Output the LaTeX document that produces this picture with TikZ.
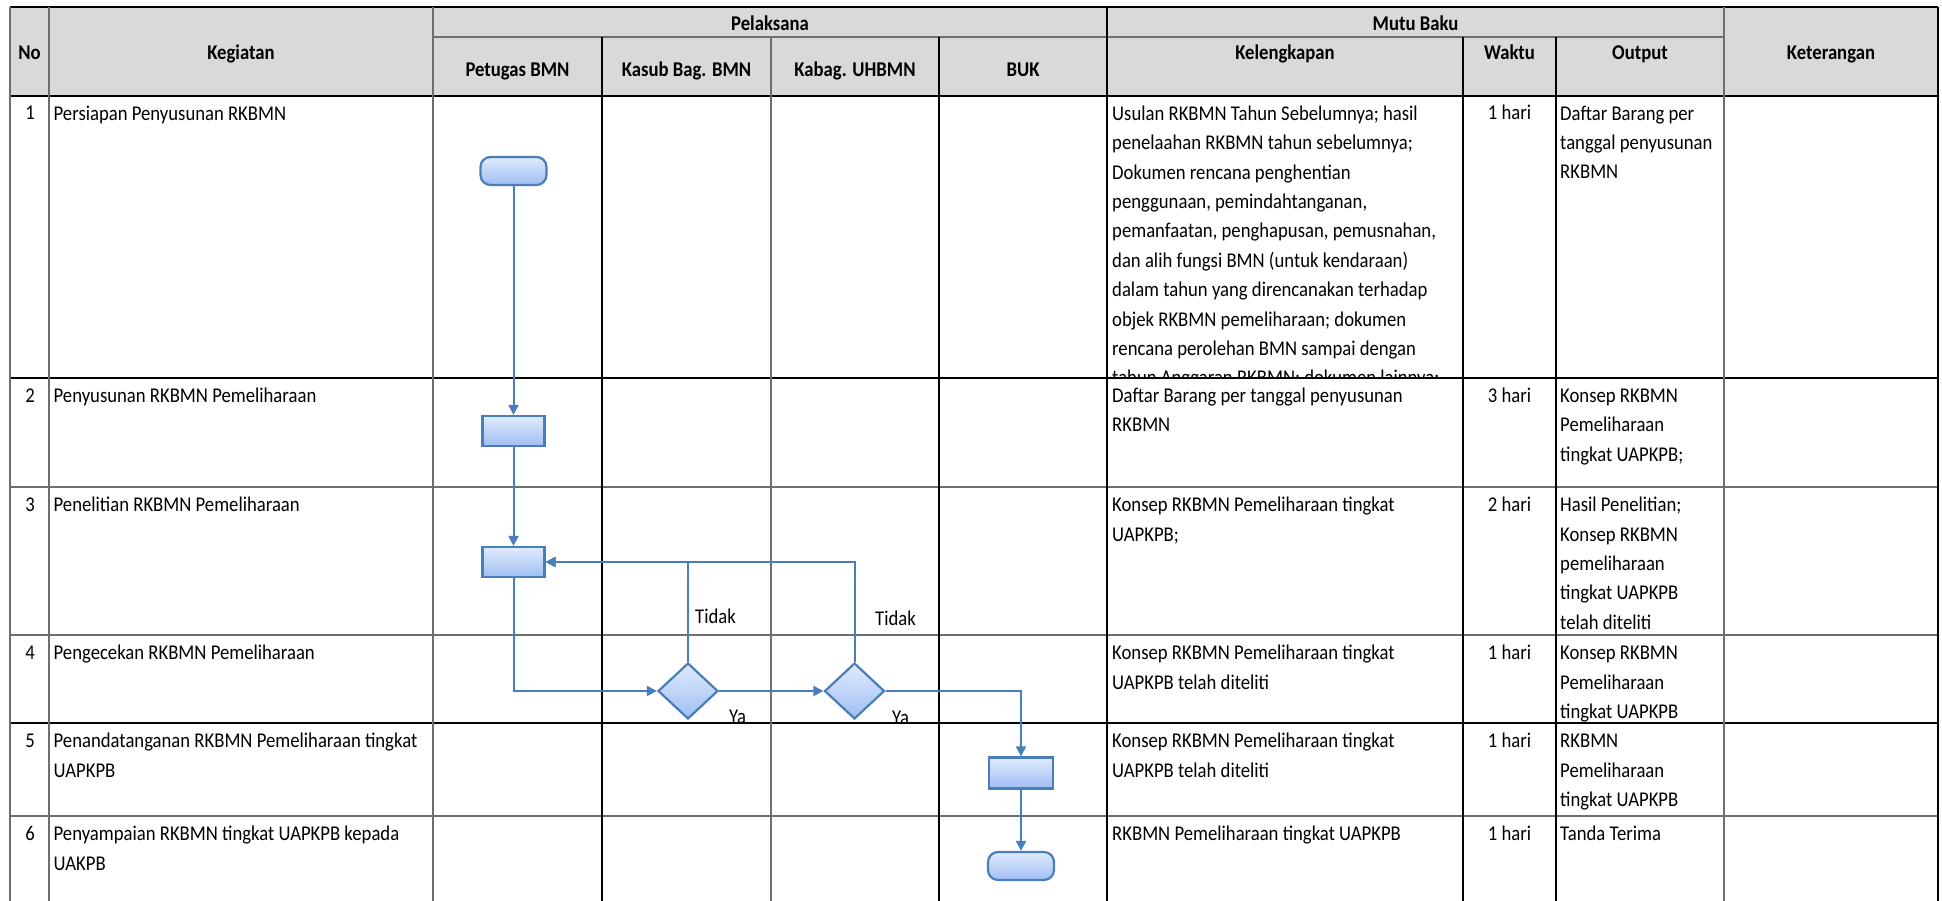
\documentclass[tikz,border=0pt]{standalone}
\usepackage{fontspec}
\setmainfont{Carlito}[FakeStretch=0.89]
\usetikzlibrary{arrows.meta,shapes.geometric}
\definecolor{hdr}{HTML}{D9D9D9}
\definecolor{flow}{HTML}{4A7EBB}
\definecolor{ftop}{HTML}{E0EBFD}
\definecolor{fbot}{HTML}{9FBEF2}
\definecolor{gridgray}{HTML}{6E6E6E}
\newcommand\bodyfont{\fontsize{21}{29.4}\selectfont}
\newcommand\cellstrut{\rule{0pt}{18pt}}
\begin{document}
\begin{tikzpicture}[x=1pt,y=-1pt,
  thickline/.style={draw=black, line width=2pt},
  thinline/.style={draw=gridgray, line width=1.3pt},
  hd/.style={font=\bodyfont\bfseries, anchor=base, inner sep=0pt},
  cell/.style={font=\bodyfont, anchor=north west, inner sep=0pt, align=left},
  num/.style={font=\bodyfont, anchor=base, inner sep=0pt},
  shapebase/.style={draw=flow, line width=2.2pt, top color=ftop, bottom color=fbot, inner sep=0pt},
  term/.style={shapebase, rectangle, rounded corners=10pt, minimum width=66pt, minimum height=28pt},
  proc/.style={shapebase, rectangle, minimum width=62pt, minimum height=30pt},
  dec/.style={shapebase, diamond, minimum width=60pt, minimum height=56pt},
  conn/.style={draw=flow, line width=2pt, -{Triangle[length=10pt,width=10pt]}},
  lbl/.style={font=\bodyfont, anchor=base west, inner sep=0pt}
]
\useasboundingbox (0,0) rectangle (1942,901);
\fill[white] (0,0) rectangle (1942,901);
% header background
\fill[hdr] (10,7) rectangle (1938,96);
% horizontal grid lines
\draw[thickline] (10,7) -- (1938,7);
\draw[thinline] (433,37) -- (1724,37);
\draw[thickline] (10,96) -- (1938,96);
\draw[thickline] (10,377.5) -- (1938,377.5);
\draw[thinline] (10,487) -- (1938,487);
\draw[thinline] (10,635) -- (1938,635);
\draw[thickline] (10,723) -- (1938,723);
\draw[thinline] (10,816) -- (1938,816);
% vertical grid lines
\draw[thinline, line width=2pt] (10,7) -- (10,901);
\draw[thinline] (49,7) -- (49,901);
\draw[thinline] (433,7) -- (433,901);
\draw[thickline] (602,37) -- (602,901);
\draw[thinline] (771,37) -- (771,901);
\draw[thickline, line width=1.3pt] (939,37) -- (939,901);
\draw[thickline] (1107,7) -- (1107,901);
\draw[thickline] (1463,37) -- (1463,901);
\draw[thickline] (1556,37) -- (1556,901);
\draw[thinline] (1724,7) -- (1724,901);
\draw[thickline] (1938,7) -- (1938,901);
% header texts
\node[hd] (hNo) at (29.5,60) {No};
\node[hd] (hKeg) at (241,60) {Kegiatan};
\node[hd] (hPel) at (770,31) {Pelaksana};
\node[hd] (hMutu) at (1415.5,31) {Mutu Baku};
\node[hd] (hKet) at (1831,60) {Keterangan};
\node[hd] (hPet) at (517.5,76.7) {Petugas BMN};
\node[hd] (hKas) at (686.5,76.7) {Kasub Bag. BMN};
\node[hd] (hKab) at (855,76.7) {Kabag. UHBMN};
\node[hd] (hBUK) at (1023,76.7) {BUK};
\node[hd] (hKel) at (1285,60) {Kelengkapan};
\node[hd] (hWak) at (1509.5,60) {Waktu};
\node[hd] (hOut) at (1640,60) {Output};
% row 1
\node[num] (n1) at (30,120) {1};
\node[cell] (k1) at (53.5,102) {\cellstrut Persiapan Penyusunan RKBMN};
\begin{scope}
\clip (1107,96) rectangle (1463,377.5);
\node[cell] (l1) at (1112,102) {\cellstrut Usulan RKBMN Tahun Sebelumnya; hasil\\penelaahan RKBMN tahun sebelumnya;\\Dokumen rencana penghentian\\penggunaan, pemindahtanganan,\\pemanfaatan, penghapusan, pemusnahan,\\dan alih fungsi BMN (untuk kendaraan)\\dalam tahun yang direncanakan terhadap\\objek RKBMN pemeliharaan; dokumen\\rencana perolehan BMN sampai dengan\\tahun Anggaran RKBMN; dokumen lainnya;};
\end{scope}
\node[num] (w1) at (1509.5,120) {1 hari};
\node[cell] (o1) at (1560,102) {\cellstrut Daftar Barang per\\tanggal penyusunan\\RKBMN};
% row 2
\node[num] (n2) at (30,402) {2};
\node[cell] (k2) at (53.5,384) {\cellstrut Penyusunan RKBMN Pemeliharaan};
\node[cell] (l2) at (1112,384) {\cellstrut Daftar Barang per tanggal penyusunan\\RKBMN};
\node[num] (w2) at (1509.5,402) {3 hari};
\node[cell] (o2) at (1560,384) {\cellstrut Konsep RKBMN\\Pemeliharaan\\tingkat UAPKPB;};
% row 3
\node[num] (n3) at (30,511.5) {3};
\node[cell] (k3) at (53.5,493.5) {\cellstrut Penelitian RKBMN Pemeliharaan};
\node[cell] (l3) at (1112,493.5) {\cellstrut Konsep RKBMN Pemeliharaan tingkat\\UAPKPB;};
\node[num] (w3) at (1509.5,511.5) {2 hari};
\node[cell] (o3) at (1560,493.5) {\cellstrut Hasil Penelitian;\\Konsep RKBMN\\pemeliharaan\\tingkat UAPKPB\\telah diteliti};
% row 4
\node[num] (n4) at (30,659.5) {4};
\node[cell] (k4) at (53.5,641.5) {\cellstrut Pengecekan RKBMN Pemeliharaan};
\node[cell] (l4) at (1112,641.5) {\cellstrut Konsep RKBMN Pemeliharaan tingkat\\UAPKPB telah diteliti};
\node[num] (w4) at (1509.5,659.5) {1 hari};
\node[cell] (o4) at (1560,641.5) {\cellstrut Konsep RKBMN\\Pemeliharaan\\tingkat UAPKPB};
% row 5
\node[num] (n5) at (30,747.5) {5};
\node[cell] (k5) at (53.5,729.5) {\cellstrut Penandatanganan RKBMN Pemeliharaan tingkat\\UAPKPB};
\node[cell] (l5) at (1112,729.5) {\cellstrut Konsep RKBMN Pemeliharaan tingkat\\UAPKPB telah diteliti};
\node[num] (w5) at (1509.5,747.5) {1 hari};
\node[cell] (o5) at (1560,729.5) {\cellstrut RKBMN\\Pemeliharaan\\tingkat UAPKPB};
% row 6
\node[num] (n6) at (30,840.5) {6};
\node[cell] (k6) at (53.5,822.5) {\cellstrut Penyampaian RKBMN tingkat UAPKPB kepada\\UAKPB};
\node[cell] (l6) at (1112,822.5) {\cellstrut RKBMN Pemeliharaan tingkat UAPKPB};
\node[num] (w6) at (1509.5,840.5) {1 hari};
\node[cell] (o6) at (1560,822.5) {\cellstrut Tanda Terima};
% flowchart shapes
\node[term] (t1) at (513.5,171) {};
\node[proc] (p2) at (513.5,431) {};
\node[proc] (p3) at (513.5,562) {};
\node[dec] (d1) at (688,691) {};
\node[dec] (d2) at (854.5,691) {};
\node[proc, minimum width=64pt, minimum height=31pt] (p5) at (1021,773) {};
\node[term] (t6) at (1021,866) {};
% connectors
\draw[conn] (t1.south) -- (p2.north);
\draw[conn] (p2.south) -- (p3.north);
\draw[conn] (p3.south) |- (d1.west);
\draw[conn] (d1.east) -- (d2.west);
\draw[conn] (d1.north) |- (p3.east);
\draw[conn] (d2.north) |- (p3.east);
\draw[conn] (d2.east) -| (p5.north);
\draw[conn] (p5.south) -- (t6.north);
% labels
\node[lbl] (tidak1) at (695,623) {Tidak};
\node[lbl] (tidak2) at (875,625) {Tidak};
\node[lbl] (ya1) at (729,723) {Ya};
\node[lbl] (ya2) at (892,724) {Ya};
\end{tikzpicture}
\end{document}
